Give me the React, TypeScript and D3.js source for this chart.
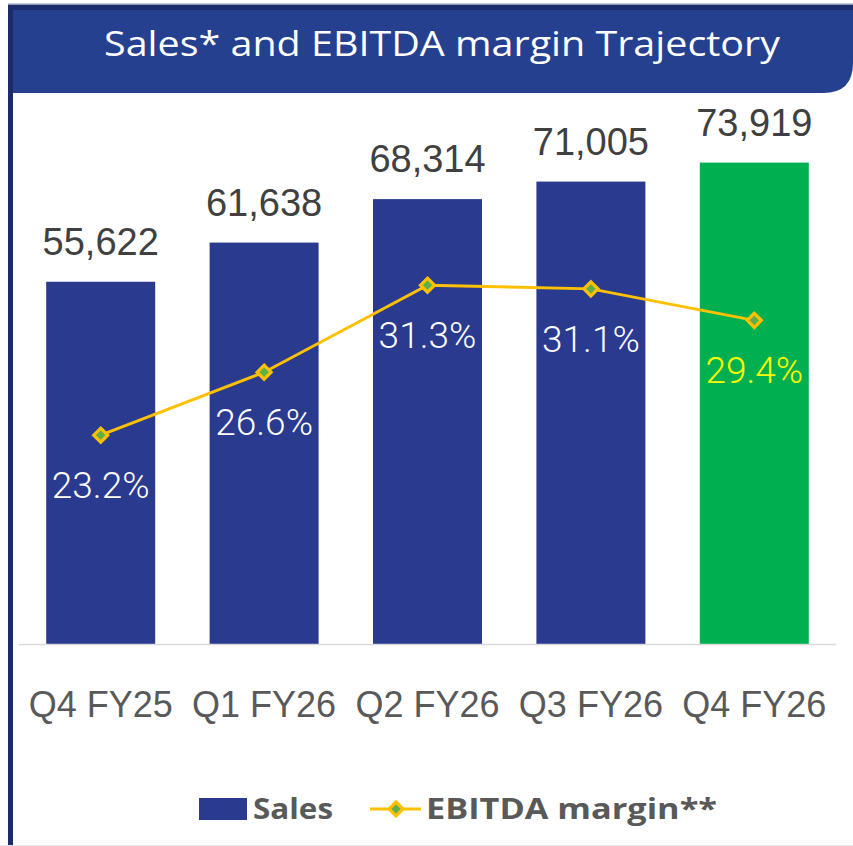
import React from "react";
import * as d3 from "d3";

const categories: string[] = ["Q4 FY25", "Q1 FY26", "Q2 FY26", "Q3 FY26", "Q4 FY26"];
const salesValues: number[] = [55622, 61638, 68314, 71005, 73919];
const ebitdaMargin: number[] = [23.2, 26.6, 31.3, 31.1, 29.4];
const salesLabels: string[] = ["55,622", "61,638", "68,314", "71,005", "73,919"];
const marginLabels: string[] = ["23.2%", "26.6%", "31.3%", "31.1%", "29.4%"];
const titleText = "Sales* and EBITDA margin Trajectory";
const legendLabels: string[] = ["Sales", "EBITDA margin**"];

const W = 853;
const H = 846;
const NAVY = "#293a8f";
const GREEN = "#00b050";
const GOLD = "#ffc000";
const MARKER_IN = "#5fae4a";
const HEADER = "#25408f";
const DARK = "#1b2c6c";
const GREY_TEXT = "#595959";

export default function App() {
  const x = d3
    .scaleBand<string>()
    .domain(categories)
    .range([19, 836])
    .paddingInner(0.333)
    .paddingOuter(0.1665);
  const y = d3.scaleLinear().domain([0, 80000]).range([644, 123]);
  const y2 = d3.scaleLinear().domain([0, 40]).range([865, 124]);

  const pts: [number, number][] = ebitdaMargin.map((v, i) => [
    (x(categories[i]) as number) + x.bandwidth() / 2,
    y2(v),
  ]);
  const line = d3.line<[number, number]>()(pts) as string;

  const diamond = (cx: number, cy: number, key: string | number) => (
    <g key={key}>
      <path
        d={`M${cx},${cy - 7} L${cx + 7},${cy} L${cx},${cy + 7} L${cx - 7},${cy} Z`}
        fill={MARKER_IN}
        stroke={GOLD}
        strokeWidth={3.2}
        strokeLinejoin="miter"
      />
    </g>
  );

  const r = 30;
  const headerPath = `M13,10 L853,10 L853,${93 - r} Q853,93 ${853 - r},93 L13,93 Z`;

  return (
    <svg
      width={W}
      height={H}
      style={{ position: "absolute", left: 0, top: 0, background: "#fff" }}
      fontFamily="'Liberation Sans', Arial, sans-serif"
    >
      <rect x={0} y={0} width={W} height={H} fill="#fff" />
      {/* header */}
      <rect x={8} y={3.5} width={W - 8} height={1.5} fill="#8c96b4" />
      <rect x={8} y={5} width={W - 8} height={5} fill={DARK} />
      <path d={headerPath} fill={HEADER} />
      <rect x={8} y={5} width={5} height={H - 5} fill={DARK} />
      <text
        x={442}
        y={56}
        textAnchor="middle"
        fill="#fff"
        fontSize={35}
        fontFamily="'Open Sans', sans-serif"
        textLength={676}
        lengthAdjust="spacingAndGlyphs"
      >
        {titleText}
      </text>

      {/* bars */}
      {categories.map((c, i) => (
        <rect
          key={c}
          x={x(c)}
          y={y(salesValues[i])}
          width={x.bandwidth()}
          height={y(0) - y(salesValues[i])}
          fill={i === categories.length - 1 ? GREEN : NAVY}
        />
      ))}
      {/* axis baseline */}
      <line x1={19} x2={836} y1={644.5} y2={644.5} stroke="#d9d9d9" strokeWidth={1.5} />

      {/* sales labels */}
      {categories.map((c, i) => (
        <text
          key={c}
          x={(x(c) as number) + x.bandwidth() / 2}
          y={y(salesValues[i]) - 27}
          textAnchor="middle"
          fill="#404040"
          fontSize={38}
        >
          {salesLabels[i]}
        </text>
      ))}

      {/* line */}
      <path d={line} fill="none" stroke={GOLD} strokeWidth={3} />
      {pts.map((p, i) => diamond(p[0], p[1], i))}

      {/* margin labels */}
      {pts.map((p, i) => (
        <text
          key={i}
          x={p[0]}
          y={p[1] + 63}
          textAnchor="middle"
          fill={i === pts.length - 1 ? "#ffff00" : "#fff"}
          fontSize={37}
          fontWeight={300}
          fontFamily="Roboto, sans-serif"
        >
          {marginLabels[i]}
        </text>
      ))}

      {/* x labels */}
      {categories.map((c) => (
        <text
          key={c}
          x={(x(c) as number) + x.bandwidth() / 2}
          y={717}
          textAnchor="middle"
          fill={GREY_TEXT}
          fontSize={36}
        >
          {c}
        </text>
      ))}

      {/* legend */}
      <rect x={199} y={798} width={48} height={22} fill={NAVY} />
      <text
        x={253}
        y={819}
        fill={GREY_TEXT}
        fontSize={28}
        fontWeight={700}
        fontFamily="'Open Sans', sans-serif"
        textLength={80}
        lengthAdjust="spacingAndGlyphs"
      >
        {legendLabels[0]}
      </text>
      <line x1={370} x2={421} y1={809} y2={809} stroke={GOLD} strokeWidth={3} />
      {diamond(396, 809, "leg")}
      <text
        x={426}
        y={819}
        fill={GREY_TEXT}
        fontSize={28}
        fontWeight={700}
        fontFamily="'Open Sans', sans-serif"
        textLength={291}
        lengthAdjust="spacingAndGlyphs"
      >
        {legendLabels[1]}
      </text>

      {/* bottom line */}
      <line x1={0} x2={W} y1={845.5} y2={845.5} stroke="#e6e6e6" strokeWidth={1} />
    </svg>
  );
}
